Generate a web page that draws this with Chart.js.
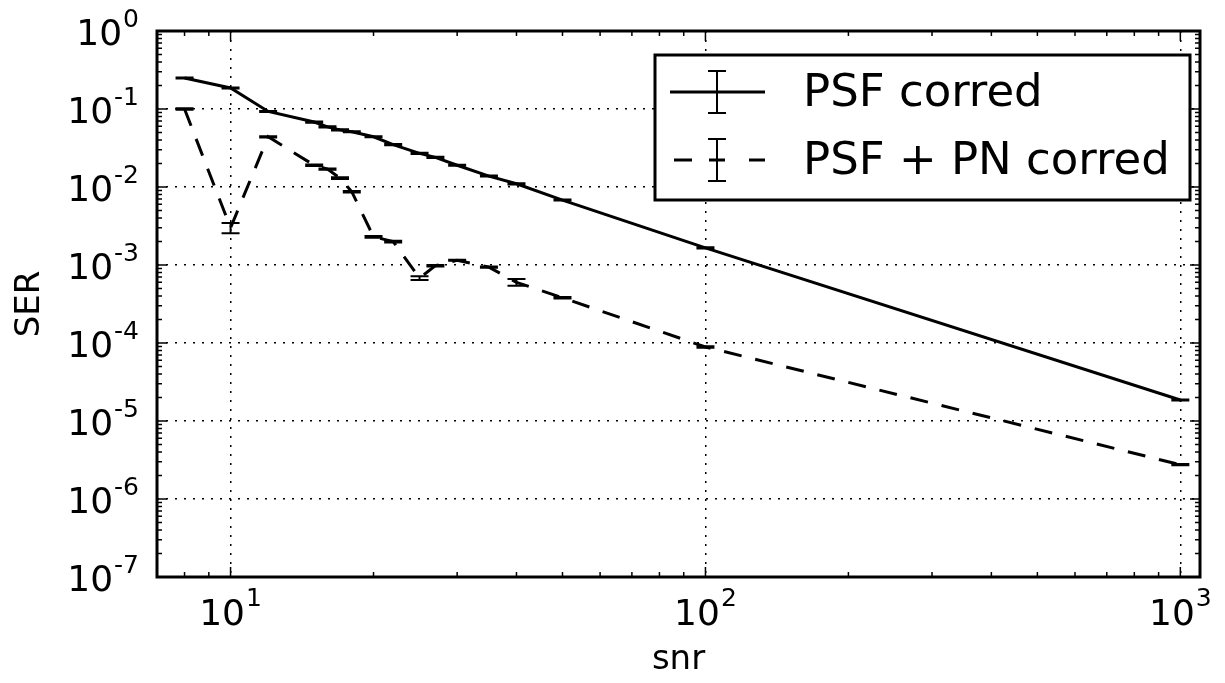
<!DOCTYPE html>
<html>
<head>
<meta charset="utf-8">
<script src="https://cdn.jsdelivr.net/npm/chart.js@4.4.0/dist/chart.umd.min.js"></script>
<style>
  html, body { margin: 0; padding: 0; background: #fff; }
  #wrap { width: 1225px; height: 683px; position: relative; }
</style>
</head>
<body>
<div id="wrap"><canvas id="chart"></canvas></div>
<script>
var snr = [8, 10, 12, 15, 16, 17, 18, 20, 22, 25, 27, 30, 35, 40, 50, 100, 1000];

var serPsf = [0.25, 0.186, 0.093, 0.068, 0.059, 0.054, 0.051, 0.044, 0.035, 0.027, 0.024,
  0.019, 0.0138, 0.011, 0.0068, 0.00166, 0.0000186];
var errPsf = [0.004, 0.003, 0.0015, 0.0012, 0.001, 0.0009, 0.0008, 0.0007, 0.0006, 0.0005, 0.0004,
  0.0003, 0.0002, 0.0002, 0.0001, 0.00003, 0.0000003];

var serPsfPn = [0.1, 0.003, 0.044, 0.019, 0.017, 0.013, 0.0087, 0.0023, 0.002, 0.00068, 0.00098,
  0.00115, 0.00094, 0.0006, 0.00038, 0.000089, 0.00000275];
var errPsfPn = [0.002, 0.00045, 0.0008, 0.0004, 0.0003, 0.0003, 0.0002, 0.00006, 0.00005, 0.00004, 0.00002,
  0.00002, 0.00002, 0.00006, 0.000008, 0.000002, 0.00000005];

var labels = ['PSF corred', 'PSF + PN corred'];
var xTicks = [10, 100, 1000];
var yTicks = [1e-7, 1e-6, 1e-5, 1e-4, 1e-3, 1e-2, 1e-1, 1];

var FONT = '"DejaVu Sans", Verdana, sans-serif';

function exponent(v) {
  return String(Math.round(Math.log10(v)));
}

function points(ys) {
  return snr.map(function (x, i) { return { x: x, y: ys[i] }; });
}

// error bars drawn through the chart scales
var errorBars = {
  id: 'errorBars',
  afterDatasetsDraw: function (chart) {
    var ctx = chart.ctx, xs = chart.scales.x, ys = chart.scales.y;
    ctx.save();
    ctx.strokeStyle = '#000';
    ctx.lineWidth = 2;
    chart.data.datasets.forEach(function (ds) {
      if (!ds.yerr) return;
      ds.data.forEach(function (p, i) {
        var e = ds.yerr[i];
        var px = xs.getPixelForValue(p.x);
        var top = ys.getPixelForValue(p.y + e);
        var bot = ys.getPixelForValue(p.y - e);
        ctx.beginPath();
        ctx.moveTo(px, top); ctx.lineTo(px, bot);
        ctx.moveTo(px - 9, top); ctx.lineTo(px + 9, top);
        ctx.moveTo(px - 9, bot); ctx.lineTo(px + 9, bot);
        ctx.stroke();
      });
    });
    ctx.restore();
  }
};

// spines, inward major / minor ticks, 10^n tick labels
var frame = {
  id: 'frame',
  afterDraw: function (chart) {
    var ctx = chart.ctx, a = chart.chartArea, xs = chart.scales.x, ys = chart.scales.y;
    ctx.save();
    ctx.strokeStyle = '#000';
    ctx.lineWidth = 1.5;
    ctx.beginPath();
    var d, m, v, p, len;
    for (d = 0; d <= 3; d++) {
      for (m = 1; m <= 9; m++) {
        v = m * Math.pow(10, d);
        if (v < xs.min || v > xs.max) continue;
        p = xs.getPixelForValue(v);
        len = m === 1 ? 10 : 5;
        ctx.moveTo(p, a.bottom); ctx.lineTo(p, a.bottom - len);
        ctx.moveTo(p, a.top); ctx.lineTo(p, a.top + len);
      }
    }
    for (d = -7; d <= 0; d++) {
      for (m = 1; m <= 9; m++) {
        v = m * Math.pow(10, d);
        if (v < ys.min || v > ys.max) continue;
        p = ys.getPixelForValue(v);
        len = m === 1 ? 10 : 5;
        ctx.moveTo(a.left, p); ctx.lineTo(a.left + len, p);
        ctx.moveTo(a.right, p); ctx.lineTo(a.right - len, p);
      }
    }
    ctx.stroke();
    ctx.lineWidth = 3;
    ctx.strokeRect(a.left, a.top, a.right - a.left, a.bottom - a.top);

    ctx.fillStyle = '#000';
    ctx.textBaseline = 'alphabetic';
    ctx.textAlign = 'left';
    var big = '36px ' + FONT, small = '25px ' + FONT;
    yTicks.forEach(function (t) {
      var py = ys.getPixelForValue(t), e = exponent(t);
      ctx.font = small;
      var we = ctx.measureText(e).width;
      ctx.font = big;
      var wb = ctx.measureText('10').width;
      var right = a.left - 18;
      ctx.fillText('10', right - we - wb - 1, py + 14);
      ctx.font = small;
      ctx.fillText(e, right - we, py - 4);
    });
    xTicks.forEach(function (t) {
      var px = xs.getPixelForValue(t), e = exponent(t);
      ctx.font = small;
      var we = ctx.measureText(e).width;
      ctx.font = big;
      var wb = ctx.measureText('10').width;
      var start = px - (wb + we + 1) / 2;
      ctx.fillText('10', start, a.bottom + 48);
      ctx.font = small;
      ctx.fillText(e, start + wb + 1, a.bottom + 29);
    });
    ctx.restore();
  }
};

// boxed legend in the upper right, with error-bar markers
var boxLegend = {
  id: 'boxLegend',
  afterDraw: function (chart) {
    var ctx = chart.ctx, a = chart.chartArea;
    var L = a.right - 545, R = a.right - 10, T = a.top + 24, B = a.top + 169;
    ctx.save();
    ctx.fillStyle = '#fff';
    ctx.fillRect(L, T, R - L, B - T);
    ctx.strokeStyle = '#000';
    ctx.lineWidth = 3;
    ctx.strokeRect(L, T, R - L, B - T);
    var rows = [a.top + 61, a.top + 129];
    var cx = L + 62;
    rows.forEach(function (y, i) {
      ctx.lineWidth = 3;
      ctx.beginPath();
      if (i === 0) {
        ctx.moveTo(L + 15, y); ctx.lineTo(L + 110, y);
      } else {
        ctx.moveTo(L + 19, y); ctx.lineTo(L + 37, y);
        ctx.moveTo(cx - 8, y); ctx.lineTo(cx + 8, y);
        ctx.moveTo(L + 94, y); ctx.lineTo(L + 110, y);
      }
      ctx.stroke();
      ctx.lineWidth = 2;
      ctx.beginPath();
      ctx.moveTo(cx, y - 21); ctx.lineTo(cx, y + 21);
      ctx.moveTo(cx - 9, y - 21); ctx.lineTo(cx + 9, y - 21);
      ctx.moveTo(cx - 9, y + 21); ctx.lineTo(cx + 9, y + 21);
      ctx.stroke();
      ctx.fillStyle = '#000';
      ctx.font = '45px ' + FONT;
      ctx.textBaseline = 'middle';
      ctx.textAlign = 'left';
      ctx.fillText(chart.data.datasets[i].label, L + 148, y + 2);
    });
    ctx.restore();
  }
};

new Chart(document.getElementById('chart').getContext('2d'), {
  type: 'line',
  data: {
    datasets: [
      {
        label: labels[0],
        data: points(serPsf),
        yerr: errPsf,
        borderColor: '#000',
        borderWidth: 3,
        pointRadius: 0,
        tension: 0,
        fill: false
      },
      {
        label: labels[1],
        data: points(serPsfPn),
        yerr: errPsfPn,
        borderColor: '#000',
        borderWidth: 3,
        borderDash: [18, 14],
        pointRadius: 0,
        tension: 0,
        fill: false
      }
    ]
  },
  options: {
    responsive: true,
    maintainAspectRatio: false,
    animation: false,
    layout: { padding: { top: 31, right: 25, left: 0, bottom: 0 } },
    plugins: { legend: { display: false }, tooltip: { enabled: false } },
    scales: {
      x: {
        type: 'logarithmic',
        min: 7,
        max: 1100,
        bounds: 'data',
        afterBuildTicks: function (s) { s.ticks = xTicks.map(function (v) { return { value: v }; }); },
        afterFit: function (s) { s.height = 106; },
        border: { display: false, dash: [2, 7] },
        grid: { color: '#000', lineWidth: 1.5, drawTicks: false },
        ticks: { display: false },
        title: { display: true, text: 'snr', color: '#000', font: { family: FONT, size: 34 }, padding: { top: 4, bottom: 2 } }
      },
      y: {
        type: 'logarithmic',
        min: 1e-7,
        max: 1,
        bounds: 'data',
        afterBuildTicks: function (s) { s.ticks = yTicks.map(function (v) { return { value: v }; }); },
        afterFit: function (s) { s.width = 157; },
        border: { display: false, dash: [2, 7] },
        grid: { color: '#000', lineWidth: 1.5, drawTicks: false },
        ticks: { display: false },
        title: { display: true, text: 'SER', color: '#000', font: { family: FONT, size: 34 }, padding: { top: 10, bottom: 0 } }
      }
    }
  },
  plugins: [errorBars, frame, boxLegend]
});
</script>
</body>
</html>
